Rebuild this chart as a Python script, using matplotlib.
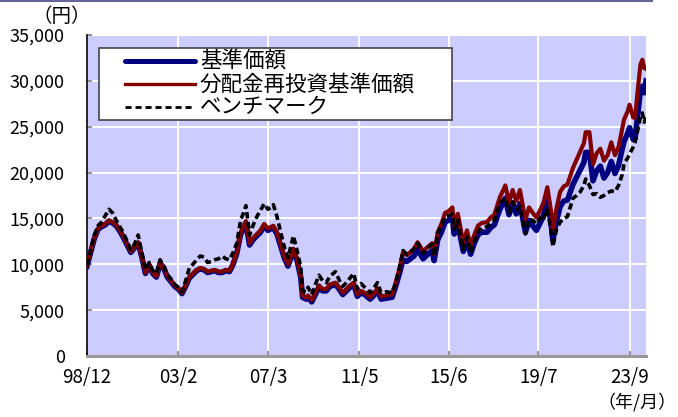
import matplotlib
matplotlib.use("Agg")
import matplotlib.pyplot as plt
from matplotlib.lines import Line2D
import numpy as np

plt.rcParams["font.family"] = ["Noto Sans CJK JP", "DejaVu Sans"]

# months counted from 1998/12
months = [
    0, 2, 4, 6, 8, 10, 12, 14, 16, 18,
    20, 22, 24, 26, 28, 30, 32, 34, 36, 38,
    40, 42, 44, 46, 48, 50, 52, 54, 56, 58,
    60, 62, 64, 66, 68, 70, 72, 74, 76, 78,
    80, 82, 84, 86, 87, 89, 91, 93, 95, 97,
    99, 101, 102, 104, 106, 108, 110, 113, 115, 117,
    118, 120, 121, 123, 125, 127, 129, 131, 133, 136,
    138, 140, 142, 144, 146, 148, 150, 152, 155, 157,
    159, 161, 164, 167, 169, 171, 173, 175, 177, 179,
    181, 184, 186, 189, 190, 192, 194, 196, 198, 200,
    201, 203, 206, 208, 210, 212, 214, 216, 219, 221,
    223, 226, 229, 231, 233, 235, 237, 239, 240, 242,
    244, 246, 249, 250, 252, 254, 255, 257, 259, 261,
    263, 266, 268, 270, 272, 273, 275, 277, 279, 281,
    283, 285, 287, 289, 291, 293, 294, 296, 297, 299,
    300, 302, 303, 304, 305, 306,
]

# 基準価額
nav = [
    9800, 11300, 12800, 13800, 14100, 14300, 14700, 14500, 14200, 13600,
    12900, 12100, 11300, 11800, 12300, 10800, 9000, 9900, 9000, 8600,
    10100, 9600, 8600, 8100, 7600, 7300, 6800, 7600, 8500, 8900,
    9300, 9500, 9400, 9100, 9200, 9300, 9100, 9100, 9300, 9200,
    10000, 11200, 13200, 14100, 14500, 12100, 12700, 13100, 13500, 14200,
    13700, 13900, 14000, 13300, 12000, 10700, 9800, 11500, 10400, 8600,
    6400, 6200, 6400, 5900, 6700, 7500, 7100, 7100, 7600, 7800,
    7300, 6700, 7100, 7500, 7800, 6500, 6900, 6700, 6200, 6600,
    7100, 6200, 6300, 6400, 7600, 9000, 10500, 10300, 10600, 10900,
    11600, 10600, 11000, 11500, 10400, 12700, 13500, 14600, 14800, 15100,
    13300, 14400, 11400, 12700, 11100, 12300, 13200, 13500, 13500, 14000,
    14300, 16000, 17200, 15400, 16700, 15500, 16600, 14500, 13500, 14800,
    14200, 13700, 14900, 15400, 16900, 14500, 12600, 14700, 16300, 16900,
    17000, 18700, 19500, 20300, 21100, 22200, 22200, 19100, 20200, 20700,
    19400, 20000, 21200, 19900, 20800, 22600, 23400, 24300, 24900, 23600,
    23700, 27300, 29000, 29400, 28700, 30000,
]

# 分配金再投資基準価額
nav_reinv = [
    9850, 11400, 12900, 13900, 14200, 14400, 14800, 14600, 14300, 13700,
    13000, 12200, 11400, 11900, 12400, 10900, 9100, 10000, 9100, 8700,
    10200, 9700, 8700, 8200, 7700, 7400, 6900, 7700, 8600, 9000,
    9400, 9600, 9500, 9200, 9300, 9400, 9200, 9200, 9400, 9300,
    10100, 11300, 13400, 14300, 14700, 12300, 12900, 13300, 13700, 14400,
    13900, 14100, 14200, 13500, 12200, 10900, 10000, 11700, 10600, 8800,
    6600, 6400, 6600, 6100, 6900, 7700, 7300, 7300, 7800, 8000,
    7500, 6900, 7300, 7700, 8000, 6700, 7100, 6900, 6400, 6800,
    7400, 6500, 6600, 6700, 8000, 9500, 11300, 11000, 11300, 11700,
    12400, 11400, 11800, 12300, 11100, 13500, 14400, 15600, 15800, 16200,
    14300, 15500, 12300, 13700, 12000, 13200, 14200, 14500, 14600, 15100,
    15400, 17300, 18600, 16700, 18100, 16900, 18100, 15900, 14900, 16200,
    15600, 15100, 16300, 16800, 18400, 15800, 13700, 16100, 17900, 18500,
    18700, 20500, 21400, 22300, 23200, 24400, 24400, 20900, 22100, 22600,
    21300, 21900, 23300, 21900, 22800, 24800, 25800, 26700, 27400, 26000,
    26000, 30000, 31800, 32300, 31400, 31300,
]

# ベンチマーク
bench = [
    9900, 11500, 13200, 14200, 14600, 15300, 16000, 15600, 14800, 14100,
    13400, 12500, 11600, 12200, 13200, 11300, 9400, 10200, 9300, 9000,
    10500, 9800, 8900, 8400, 7800, 7500, 7000, 8200, 9600, 10000,
    10500, 10900, 10800, 10200, 10300, 10500, 10600, 10900, 10600, 10500,
    11300, 12300, 14700, 15800, 16400, 13200, 14300, 15200, 15900, 16600,
    16000, 16200, 16500, 15200, 13500, 11900, 10700, 13100, 11500, 9700,
    7100, 7000, 7500, 6700, 7800, 8800, 8200, 8000, 8700, 9200,
    8300, 7600, 8000, 8500, 9000, 7300, 7900, 7500, 6900, 7400,
    8000, 6900, 7000, 6900, 8000, 9600, 11500, 11100, 11300, 11700,
    12300, 11200, 11700, 12200, 10900, 13400, 14200, 15200, 15300, 15500,
    13800, 14800, 11600, 13000, 11300, 12400, 13500, 14000, 14100, 14500,
    14800, 16700, 17200, 15700, 16800, 15900, 16300, 14300, 13300, 14900,
    14800, 14400, 15300, 15000, 16000, 13700, 11900, 13800, 14600, 15000,
    15200, 17200, 17500, 17900, 18600, 19300, 18600, 17600, 17700, 17300,
    17500, 17800, 18000, 17900, 18600, 19800, 21000, 21600, 22000, 22800,
    23300, 25100, 26200, 26500, 25500, 26000,
]

x_ticks = [0, 50, 99, 149, 198, 247, 297]
x_labels = ["98/12", "03/2", "07/3", "11/5", "15/6", "19/7", "23/9"]
y_ticks = [0, 5000, 10000, 15000, 20000, 25000, 30000, 35000]
y_labels = ["0", "5,000", "10,000", "15,000", "20,000", "25,000", "30,000", "35,000"]

labels = ["基準価額", "分配金再投資基準価額", "ベンチマーク"]

NAVY = "#000080"
MAROON = "#800000"

fig = plt.figure(figsize=(6.78, 4.17), dpi=100)
ax = fig.add_axes([87 / 678, 1 - 356 / 417, 559 / 678, 321 / 417])
ax.set_facecolor("#CCCCFF")

ax.plot(months, nav, color=NAVY, lw=4.0, solid_joinstyle="round", zorder=3)
ax.plot(months, nav_reinv, color=MAROON, lw=3.0, solid_joinstyle="round", zorder=4)
ax.plot(months, bench, color="black", lw=2.6, ls=(0, (1.8, 1.0)), zorder=5)

ax.set_xlim(0, 306)
ax.set_ylim(0, 35000)
ax.set_xticks(x_ticks)
ax.set_xticklabels(x_labels, fontsize=13.5)
ax.set_yticks(y_ticks)
ax.set_yticklabels(y_labels, fontsize=13)
ax.grid(True, color="white", lw=1.4, zorder=1)
ax.set_axisbelow(True)

ax.tick_params(axis="both", direction="in", length=3.5, width=1.3, color="#888888")
ax.tick_params(axis="y", pad=16)
ax.tick_params(axis="x", pad=8)

for side in ("top", "right"):
    ax.spines[side].set_visible(False)
ax.spines["left"].set_color("black")
ax.spines["left"].set_linewidth(1.2)
ax.spines["bottom"].set_color("#999999")
ax.spines["bottom"].set_linewidth(2.2)

# 凡例（手描き）
frame = plt.Rectangle((0.0215, 0.735), 0.6315, 0.2245, transform=ax.transAxes,
                      facecolor="white", edgecolor="#444444", lw=1.2, zorder=8)
ax.add_patch(frame)
styles = [
    dict(color=NAVY, lw=3.6, solid_capstyle="round"),
    dict(color=MAROON, lw=2.4),
    dict(color="black", lw=2.0, ls=(0, (2.2, 1.4))),
]
rows = [0.919, 0.847, 0.776]
for lab, st, yy in zip(labels, styles, rows):
    ax.add_line(Line2D([0.068, 0.193], [yy, yy], transform=ax.transAxes, zorder=9, **st))
    ax.text(0.202, yy, lab, transform=ax.transAxes, fontsize=15.5,
            va="center", ha="left", zorder=9)

fig.text(62 / 678, 1 - 17 / 417, "（円）", fontsize=14, ha="center", va="center")
fig.text(677 / 678, 1 - 402 / 417, "（年/月）", fontsize=13, ha="right", va="center")

fig.add_artist(Line2D([0, 652 / 678], [0.998, 0.998], color="#666699", lw=1.5,
                      transform=fig.transFigure))

fig.savefig("out.png", dpi=100)
